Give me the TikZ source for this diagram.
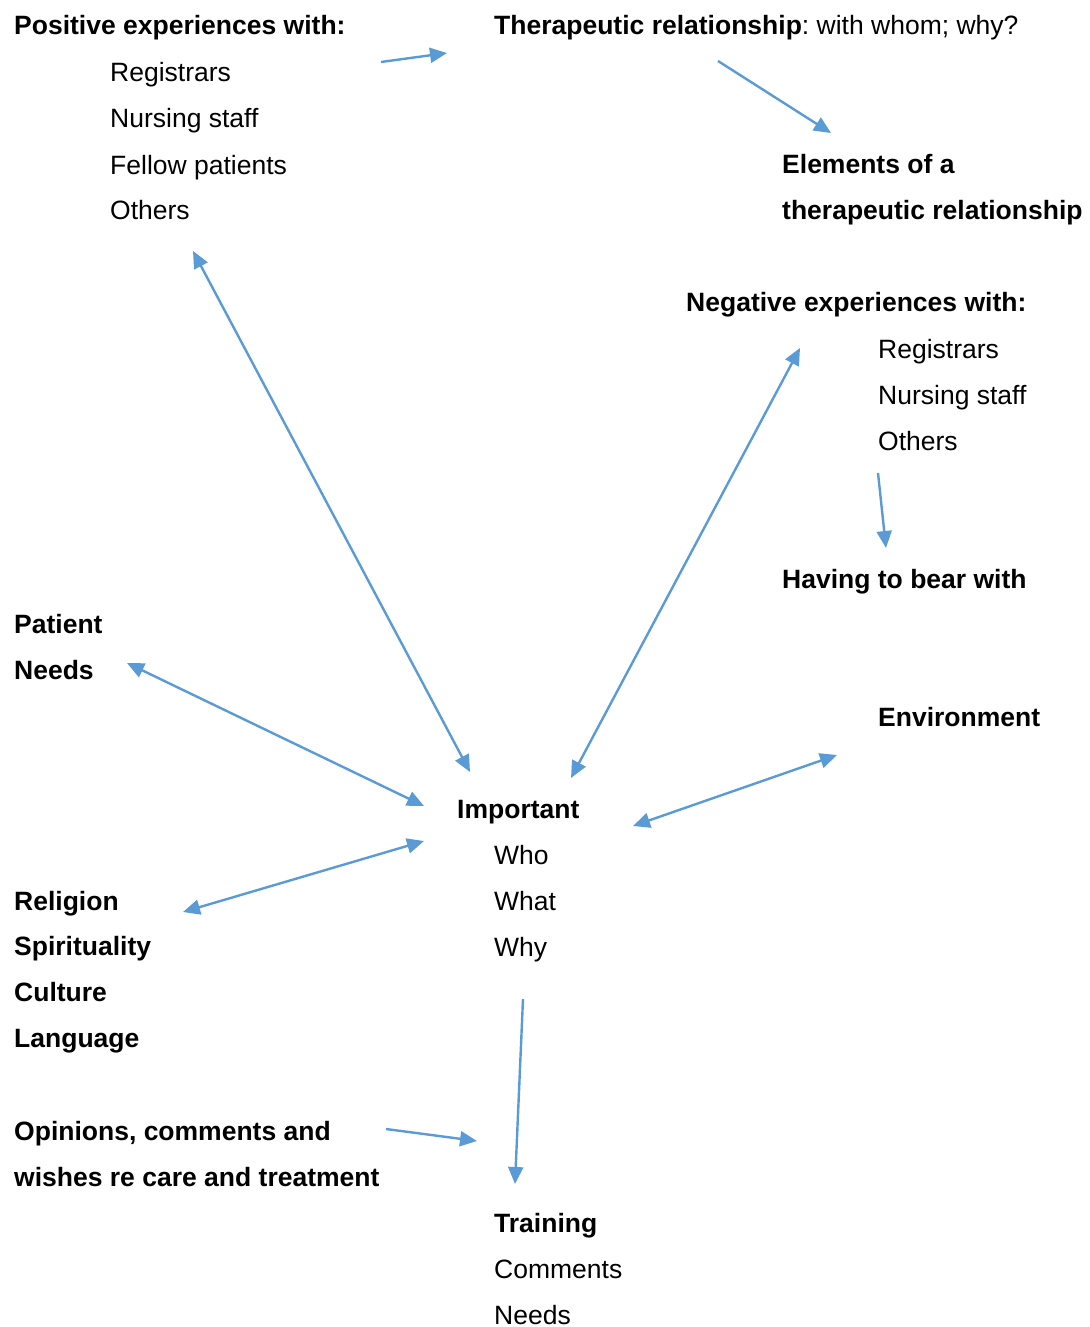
\documentclass[tikz,border=0pt]{standalone}
\usepackage{fontspec}
\setmainfont{Liberation Sans}
\usetikzlibrary{arrows.meta}
\definecolor{linkblue}{HTML}{5B9BD5}
\frenchspacing
\begin{document}
\begin{tikzpicture}[x=1pt,y=-1pt,
  txt/.style={anchor=base west,inner sep=0pt,font=\fontsize{26.5}{30}\selectfont},
  hd/.style={txt,font=\fontsize{26.5}{30}\selectfont\bfseries},
  tip/.style={},
  link/.style={draw=linkblue,line width=2.4pt,-{Triangle[length=17pt,width=15pt]}},
  both/.style={link,{Triangle[length=17pt,width=15pt]}-{Triangle[length=17pt,width=15pt]}}]
\useasboundingbox (0,0) rectangle (1089,1327);

% positive experiences
\node[hd]  (pos)  at (14,35)  {Positive experiences with:};
\node[txt] (pos1) at (110,82) {Registrars};
\node[txt] (pos2) at (110,128) {Nursing staff};
\node[txt] (pos3) at (110,174) {Fellow patients};
\node[txt] (pos4) at (110,219) {Others};

% therapeutic relationship
\node[txt] (ther) at (494,35) {\textbf{Therapeutic relationship}: with whom; why?};
\node[hd]  (elem1) at (782,173) {Elements of a};
\node[hd]  (elem2) at (782,219) {therapeutic relationship};

% negative experiences
\node[hd]  (neg)  at (686,311) {Negative experiences with:};
\node[txt] (neg1) at (878,358) {Registrars};
\node[txt] (neg2) at (878,404) {Nursing staff};
\node[txt] (neg3) at (878,450) {Others};
\node[hd]  (bear) at (782,588) {Having to bear with};

% patient needs
\node[hd] (pat1) at (14,633) {Patient};
\node[hd] (pat2) at (14,679) {Needs};

% environment
\node[hd] (env) at (878,726) {Environment};

% centre
\node[hd]  (imp)  at (457,818) {Important};
\node[txt] (imp1) at (494,864) {Who};
\node[txt] (imp2) at (494,910) {What};
\node[txt] (imp3) at (494,956) {Why};

% religion
\node[hd] (rel1) at (14,910)  {Religion};
\node[hd] (rel2) at (14,955)  {Spirituality};
\node[hd] (rel3) at (14,1001) {Culture};
\node[hd] (rel4) at (14,1047) {Language};

% opinions
\node[hd] (op1) at (14,1140) {Opinions, comments and};
\node[hd] (op2) at (14,1186) {wishes re care and treatment};

% training
\node[hd]  (tr)  at (494,1232) {Training};
\node[txt] (tr1) at (494,1278) {Comments};
\node[txt] (tr2) at (494,1324) {Needs};

% connector end points
\coordinate (posR)  at (381,62);
\coordinate (therL) at (447,53);
\coordinate (therB) at (718,61);
\coordinate (elemT) at (831,133);
\coordinate (posB)  at (193,251);
\coordinate (impTL) at (470,772);
\coordinate (negL)  at (800,348);
\coordinate (impTR) at (571,778);
\coordinate (negB)  at (878,473);
\coordinate (bearT) at (886,548);
\coordinate (patR)  at (127,663);
\coordinate (impL)  at (424,806);
\coordinate (envL)  at (837,755);
\coordinate (impR)  at (633,826);
\coordinate (relR)  at (183,912);
\coordinate (impLB) at (424,841);
\coordinate (impB)  at (523,999);
\coordinate (trT)   at (515,1184);
\coordinate (opR)   at (386,1129);
\coordinate (opT)   at (477,1141);

% connectors
\draw[link] (posR) -- (therL);
\draw[link] (therB) -- (elemT);
\draw[both] (posB) -- (impTL);
\draw[both] (negL) -- (impTR);
\draw[link] (negB) -- (bearT);
\draw[both] (patR) -- (impL);
\draw[both] (envL) -- (impR);
\draw[both] (relR) -- (impLB);
\draw[link] (impB) -- (trT);
\draw[link] (opR) -- (opT);
\end{tikzpicture}
\end{document}
